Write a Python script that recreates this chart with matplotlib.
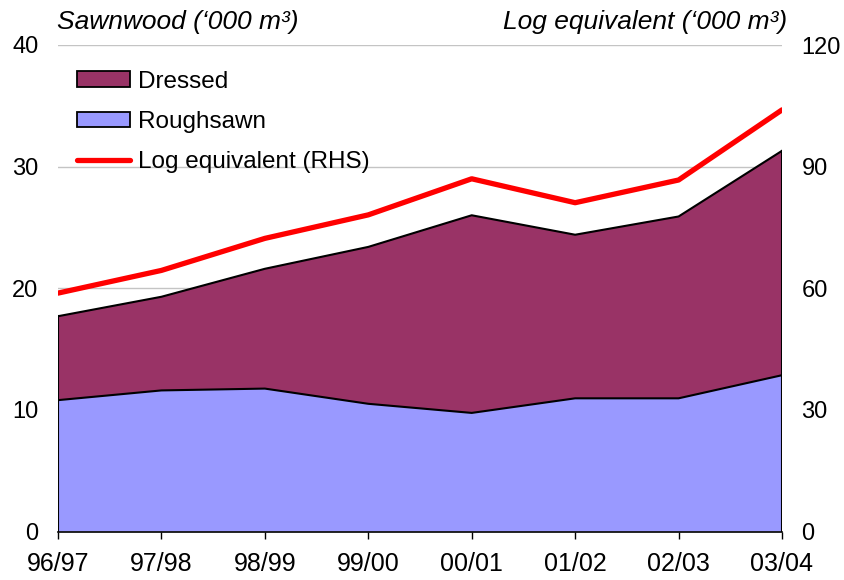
import numpy as np
import matplotlib
matplotlib.use('Agg')
import matplotlib.pyplot as plt
from matplotlib.patches import Patch
from matplotlib.lines import Line2D

plt.rcParams['font.family'] = ['Liberation Sans', 'DejaVu Sans']

# Data
years = ['96/97', '97/98', '98/99', '99/00', '00/01', '01/02', '02/03', '03/04']
roughsawn = [10.8, 11.6, 11.75, 10.5, 9.75, 10.95, 10.95, 12.85]
total = [17.7, 19.3, 21.6, 23.4, 26.0, 24.4, 25.9, 31.3]
log_equiv = [58.8, 64.4, 72.3, 78.1, 87.0, 81.1, 86.7, 104.0]

dressed_col = '#993366'
rough_col = '#9999ff'

x = np.arange(len(years))

fig = plt.figure(figsize=(8.45, 5.8), dpi=100)
ax = fig.add_axes([58/845, 1-531.5/580, 724/845, 486.5/580])

ax.fill_between(x, 0, roughsawn, facecolor=rough_col, edgecolor='none', zorder=2)
ax.fill_between(x, roughsawn, total, facecolor=dressed_col, edgecolor='none', zorder=2)
ax.plot(x, roughsawn, color='black', lw=1.5, zorder=3)
ax.plot(x, total, color='black', lw=1.5, zorder=3)
ax.plot([x[0], x[0]], [0, total[0]], color='black', lw=1.5, zorder=3)
ax.plot([x[-1], x[-1]], [0, total[-1]], color='black', lw=1.5, zorder=3)

ax.set_xlim(x[0], x[-1])
ax.set_ylim(0, 40)
ax.set_yticks([0, 10, 20, 30, 40])
ax.yaxis.grid(True, color='#c4c4c4', lw=1)
ax.set_axisbelow(True)
for s in ['left', 'right', 'top']:
    ax.spines[s].set_visible(False)
ax.spines['bottom'].set_color('black')
ax.spines['bottom'].set_linewidth(1.2)
ax.set_xticks(x)
ax.set_xticklabels(years)
ax.tick_params(axis='x', length=5, width=1, direction='out', pad=10, labelsize=18)
ax.tick_params(axis='y', length=0, pad=14, labelsize=17)

ax2 = ax.twinx()
ax2.plot(x, log_equiv, color='#ff0000', lw=3.8, solid_capstyle='round', zorder=4)
ax2.set_ylim(0, 120)
ax2.set_yticks([0, 30, 60, 90, 120])
for s in ['left', 'right', 'top', 'bottom']:
    ax2.spines[s].set_visible(False)
ax2.tick_params(axis='y', length=0, pad=14, labelsize=17)

fig.text(57/845, 1-22/580, 'Sawnwood (\u2018000 m\u00b3)', style='italic', fontsize=19,
         ha='left', va='center')
fig.text(787/845, 1-22/580, 'Log equivalent (\u2018000 m\u00b3)', style='italic', fontsize=19,
         ha='right', va='center')

handles = [Patch(facecolor=dressed_col, edgecolor='black', lw=1.3),
           Patch(facecolor=rough_col, edgecolor='black', lw=1.3),
           Line2D([], [], color='#ff0000', lw=3.8, solid_capstyle='round')]
labels = ['Dressed', 'Roughsawn', 'Log equivalent (RHS)']
ax2.legend(handles, labels, loc='upper left', bbox_to_anchor=(0.026, 0.947), frameon=False,
           borderpad=0, borderaxespad=0, fontsize=17.5, handlelength=2.2, handleheight=0.62,
           handletextpad=0.3, labelspacing=0.75)

fig.savefig('out.png', dpi=100)
